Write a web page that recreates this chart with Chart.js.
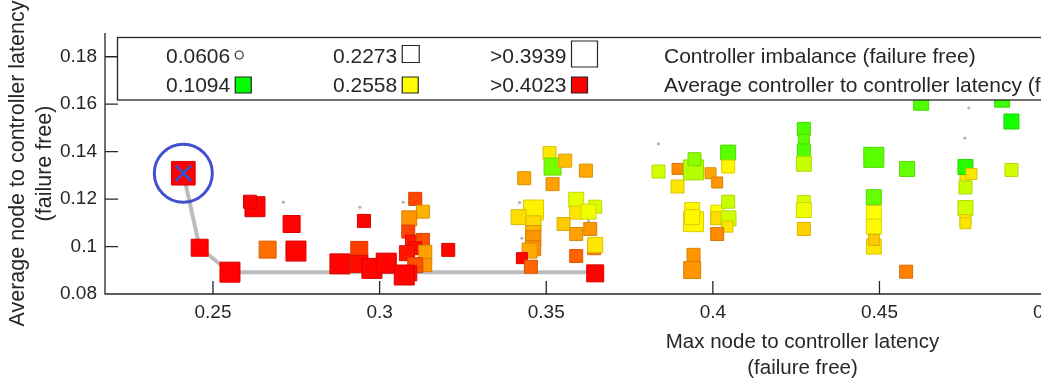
<!DOCTYPE html>
<html><head><meta charset="utf-8">
<script src="https://cdn.jsdelivr.net/npm/chart.js@4.4.1/dist/chart.umd.min.js"></script>
<style>
html,body{margin:0;padding:0;background:#fff;overflow:hidden;}
#wrap{width:1041px;height:381px;overflow:hidden;position:relative;background:#fff;}
canvas{display:block;}
</style></head><body>
<div id="wrap"><canvas id="c" width="1532" height="381"></canvas></div>
<script>
// ---- data ----
const maxLatency = [0.2411,0.2460,0.2551,0.2626,0.2611,0.2736,0.2664,0.2749,0.2881,0.2953,0.2939,0.2939,0.2977,0.3020,
  0.3107,0.3130,0.3089,0.3086,0.3097,0.3130,0.3107,0.3137,0.3082,0.3137,0.3107,0.3089,0.3074,0.3206,
  0.3510,0.3519,0.3557,0.3619,0.3434,0.3519,0.3462,0.3417,0.3462,0.3461,0.3461,0.3461,0.3450,0.3427,0.3454,
  0.3590,0.3647,0.3590,0.3627,0.3552,0.3590,0.3632,0.3644,0.3647,0.3590,0.3647,
  0.3837,0.3894,0.3942,0.3945,0.3993,0.4013,0.4046,0.4046,0.3894,0.3942,0.3938,0.3938,0.4013,0.4013,0.4046,0.4047,0.4044,0.4013,0.3942,0.3938,
  0.4273,0.4273,0.4273,0.4273,0.4273,0.4273,0.4273,0.4483,0.4483,0.4483,0.4483,0.4483,0.4483,0.4583,0.4580,
  0.4625,0.4868,0.4896,0.4758,0.4758,0.4776,0.4758,0.4758,0.4758,0.4758,0.4896];
const avgLatency = [0.1309,0.0995,0.0892,0.1168,0.1189,0.1095,0.0987,0.0981,0.0927,0.1108,0.0986,0.0927,0.0908,0.0930,
  0.1201,0.1147,0.1119,0.1063,0.1021,0.1028,0.0993,0.0978,0.0972,0.0922,0.0922,0.0887,0.0880,0.0986,
  0.1394,0.1337,0.1362,0.1320,0.1288,0.1263,0.1154,0.1124,0.1098,0.1057,0.1035,0.0993,0.0983,0.0951,0.0915,
  0.1197,0.1168,0.1143,0.1147,0.1095,0.1053,0.1074,0.0993,0.1007,0.0960,0.0887,
  0.1316,0.1327,0.1323,0.1368,0.1309,0.1270,0.1396,0.1337,0.1253,0.1105,0.1154,0.1124,0.1147,0.1119,0.1189,0.1119,0.1084,0.1053,0.0965,0.0901,
  0.1496,0.1450,0.1405,0.1349,0.1187,0.1154,0.1074,0.1376,0.1208,0.1141,0.1084,0.1000,0.1028,0.1327,0.0894,
  0.1606,0.1619,0.1527,0.1288,0.1335,0.1306,0.1249,0.1162,0.1112,0.1098,0.1323];
const imbalance = [0.35,0.227,0.283,0.283,0.153,0.227,0.227,0.283,0.283,0.153,0.227,0.227,0.283,0.283,
  0.153,0.153,0.19,0.153,0.153,0.153,0.153,0.153,0.19,0.153,0.19,0.19,0.283,0.153,
  0.153,0.227,0.153,0.153,0.153,0.153,0.283,0.19,0.19,0.19,0.19,0.19,0.19,0.116,0.153,
  0.19,0.153,0.153,0.19,0.153,0.153,0.153,0.153,0.19,0.153,0.227,
  0.153,0.116,0.283,0.153,0.116,0.116,0.19,0.153,0.153,0.283,0.19,0.19,0.153,0.153,0.153,0.19,0.116,0.153,0.153,0.227,
  0.153,0.116,0.153,0.19,0.153,0.19,0.153,0.283,0.19,0.19,0.19,0.19,0.116,0.19,0.153,
  0.19,0.19,0.19,0.116,0.19,0.116,0.153,0.19,0.116,0.116,0.153];
const c2cLatency = [0.402,0.402,0.402,0.402,0.402,0.400,0.339,0.400,0.400,0.400,0.368,0.395,0.400,0.400,
  0.362,0.300,0.316,0.362,0.390,0.356,0.395,0.310,0.390,0.316,0.356,0.395,0.400,0.400,
  0.270,0.178,0.293,0.305,0.305,0.310,0.264,0.276,0.276,0.299,0.316,0.322,0.305,0.400,0.345,
  0.241,0.236,0.270,0.247,0.287,0.310,0.316,0.330,0.270,0.345,0.402,
  0.230,0.322,0.213,0.190,0.305,0.316,0.161,0.261,0.270,0.261,0.261,0.261,0.256,0.276,0.224,0.230,0.270,0.322,0.316,0.316,
  0.155,0.161,0.155,0.224,0.236,0.247,0.282,0.161,0.167,0.256,0.259,0.270,0.287,0.167,0.328,
  0.155,0.144,0.121,0.270,0.132,0.270,0.224,0.230,0.270,0.270,0.230];
const paretoX = [0.2411,0.2460,0.2551,0.3647];
const paretoY = [0.1309,0.0995,0.0892,0.0892];
const otherX = [0.2711,0.2941,0.3071,0.3420,0.3427,0.3627,0.3837,0.4768,0.4756];
const otherY = [0.1187,0.1166,0.1187,0.1185,0.1035,0.1109,0.1433,0.1584,0.1457];
const selectedX = [0.2411];
const selectedY = [0.1309];
const xTicks = [0.25,0.3,0.35,0.4,0.45,0.5,0.55,0.6];
const yTicks = [0.08,0.1,0.12,0.14,0.16,0.18];
const sizeLegendValues = [0.0606,0.2273,0.3939];
const sizeLegendLabels = ['0.0606','0.2273','>0.3939'];
const colorLegendValues = [0.1094,0.2558,0.4023];
const colorLegendLabels = ['0.1094','0.2558','>0.4023'];
const seriesNames = ['Controller imbalance (failure free)','Average controller to controller latency (failure free)'];

// ---- mappings ----
function sideFor(v){ return 8 + (v - 0.0606) * 54; }
function rgbFor(v){
  let t = (v - 0.1094) / (0.4023 - 0.1094);
  t = Math.max(0, Math.min(1, t));
  let r, g;
  if (t < 0.5) { r = 255 * 2 * t; g = 255; } else { r = 255; g = 255 * 2 * (1 - t); }
  return [Math.round(r), Math.round(g), 0];
}
const fillFor = v => { const c = rgbFor(v); return `rgb(${c[0]},${c[1]},${c[2]})`; };
const edgeFor = v => { const c = rgbFor(v); return `rgb(${Math.round(c[0]*0.85)},${Math.round(c[1]*0.85)},0)`; };

const FONT = '"Liberation Sans", Arial, sans-serif';
const INK = '#262626';

const axesPlugin = {
  id: 'matlabAxes',
  beforeDatasetsDraw(chart) {
    const {ctx, chartArea: a, scales} = chart;
    ctx.save();
    ctx.strokeStyle = INK; ctx.lineWidth = 1.3;
    ctx.beginPath();
    ctx.moveTo(a.left, a.top); ctx.lineTo(a.left, a.bottom); ctx.lineTo(a.right, a.bottom);
    xTicks.forEach(v => { const p = scales.x.getPixelForValue(v); ctx.moveTo(p, a.bottom); ctx.lineTo(p, a.bottom - 13); });
    yTicks.forEach(v => { const p = scales.y.getPixelForValue(v); ctx.moveTo(a.left, p); ctx.lineTo(a.left + 13, p); });
    ctx.stroke();
    ctx.restore();
  }
};

const legendPlugin = {
  id: 'bubbleLegend',
  afterDatasetsDraw(chart) {
    const ctx = chart.ctx;
    ctx.save();
    ctx.fillStyle = '#fff'; ctx.strokeStyle = INK; ctx.lineWidth = 1.3;
    ctx.fillRect(117.5, 37.5, 1500, 62.5);
    ctx.strokeRect(117.5, 37.5, 1500, 62.5);
    ctx.font = '21px ' + FONT; ctx.fillStyle = INK; ctx.textBaseline = 'middle'; ctx.textAlign = 'left';
    const cols = [166, 333, 490];
    const row1 = 56, row2 = 85;
    sizeLegendLabels.forEach((lab, i) => {
      ctx.fillStyle = INK; ctx.fillText(lab, cols[i], row1 + 1);
      const w = ctx.measureText(lab).width;
      const s = sideFor(sizeLegendValues[i]);
      const cx = cols[i] + w + 5 + s / 2;
      ctx.fillStyle = '#fff'; ctx.strokeStyle = INK; ctx.lineWidth = 1.2;
      ctx.beginPath();
      if (i === 0) ctx.arc(cx, row1 - 1, s / 2, 0, Math.PI * 2); else ctx.rect(cx - s / 2, row1 - 2 - s / 2, s, s);
      ctx.fill(); ctx.stroke();
    });
    colorLegendLabels.forEach((lab, i) => {
      ctx.fillStyle = INK; ctx.fillText(lab, cols[i], row2 + 1);
      const w = ctx.measureText(lab).width;
      const s = 16;
      const cx = cols[i] + w + 5 + s / 2;
      ctx.fillStyle = fillFor(colorLegendValues[i]); ctx.strokeStyle = INK; ctx.lineWidth = 1.2;
      ctx.beginPath(); ctx.rect(cx - s / 2, row2 - s / 2, s, s); ctx.fill(); ctx.stroke();
    });
    ctx.fillStyle = INK;
    ctx.fillText(seriesNames[0], 664, row1 + 1);
    ctx.fillText(seriesNames[1], 664, row2 + 1);
    ctx.restore();
  }
};

const pts = (xs, ys) => xs.map((x, i) => ({x, y: ys[i]}));

new Chart(document.getElementById('c'), {
  type: 'scatter',
  data: {
    datasets: [
      { label: 'other', data: pts(otherX, otherY), order: 4, pointStyle: 'circle', pointRadius: 1.6,
        backgroundColor: '#b4b4b4', borderColor: '#b4b4b4', borderWidth: 0 },
      { label: 'pareto', type: 'line', data: pts(paretoX, paretoY), order: 3, showLine: true, fill: false,
        borderColor: '#bcbcbc', borderWidth: 4, pointRadius: 0, tension: 0 },
      { label: 'configs', data: pts(maxLatency, avgLatency), order: 2, pointStyle: 'rect',
        pointRadius: imbalance.map(v => sideFor(v) / Math.SQRT2),
        backgroundColor: c2cLatency.map(fillFor), borderColor: c2cLatency.map(edgeFor), borderWidth: 1 },
      { label: 'selected-x', data: pts(selectedX, selectedY), order: 1, pointStyle: 'crossRot', pointRadius: 11,
        borderColor: '#2f55d4', borderWidth: 2.6, backgroundColor: 'transparent' },
      { label: 'selected-ring', data: pts(selectedX, selectedY), order: 0, pointStyle: 'circle', pointRadius: 29,
        borderColor: '#4150cf', borderWidth: 3, backgroundColor: 'transparent' }
    ]
  },
  options: {
    responsive: false, animation: false, devicePixelRatio: 1,
    layout: { padding: { top: 33, left: 0, right: 0, bottom: 0 } },
    plugins: { legend: { display: false }, tooltip: { enabled: false } },
    scales: {
      x: {
        type: 'linear', min: 0.2176, max: 0.6362,
        grid: { display: false, drawTicks: false }, border: { display: false },
        afterBuildTicks: s => { s.ticks = xTicks.map(v => ({value: v})); },
        afterFit: s => { s.height = 87; },
        ticks: { font: { family: FONT, size: 19 }, color: INK, padding: 7, maxRotation: 0,
          callback: v => String(+v.toFixed(2)) },
        title: { display: true, text: ['Max node to controller latency', '(failure free)'],
          font: { family: FONT, size: 20.5, lineHeight: 1.27 }, color: INK, padding: { top: 0, bottom: 0 } }
      },
      y: {
        type: 'linear', min: 0.08, max: 0.19,
        grid: { display: false, drawTicks: false }, border: { display: false },
        afterBuildTicks: s => { s.ticks = yTicks.map(v => ({value: v})); },
        afterFit: s => { s.width = 105; },
        ticks: { font: { family: FONT, size: 19 }, color: INK, padding: 8,
          callback: v => String(+v.toFixed(2)) },
        title: { display: true, text: ['Average node to controller latency', '(failure free)'],
          font: { family: FONT, size: 21.5, lineHeight: 1.27 }, color: INK, padding: { top: 4.5, bottom: 0 } }
      }
    }
  },
  plugins: [axesPlugin, legendPlugin]
});
</script>
</body></html>
